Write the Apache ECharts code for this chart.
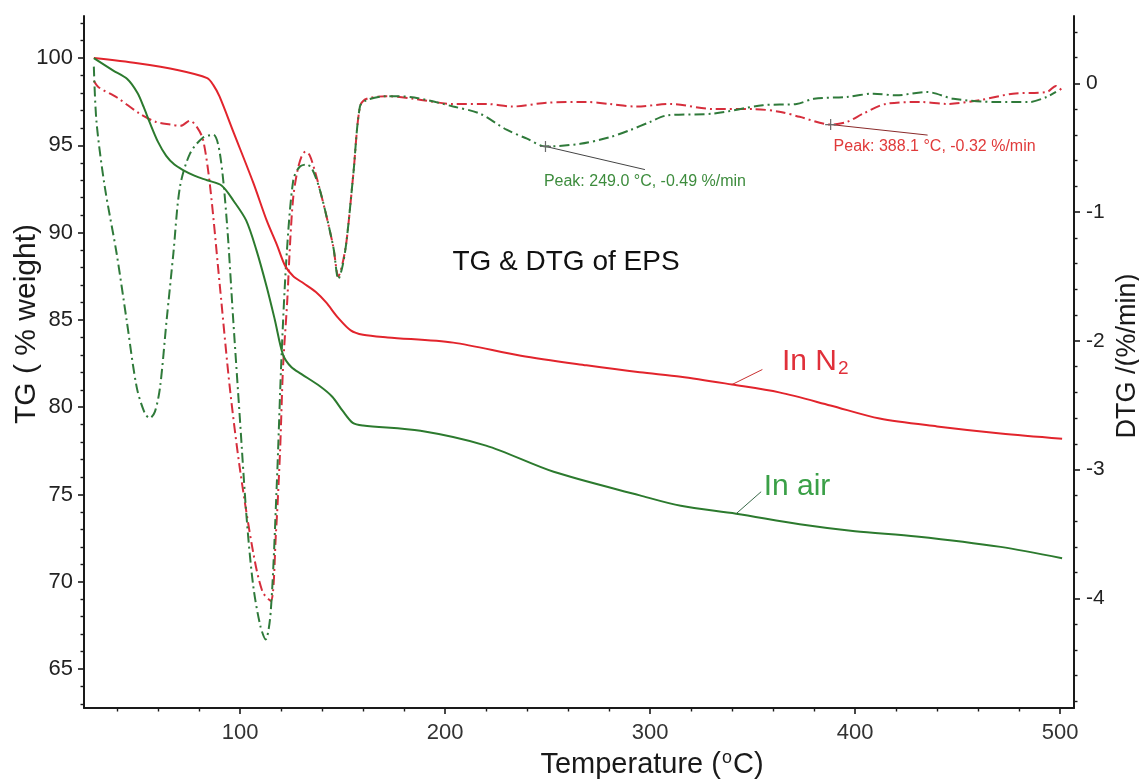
<!DOCTYPE html>
<html><head><meta charset="utf-8">
<script src="https://cdn.jsdelivr.net/npm/echarts@6/dist/echarts.min.js"></script>
<style>html,body{margin:0;padding:0;background:#fff}#c{width:1139px;height:780px}</style>
</head><body><div id="c"></div>
<script>
// ---------- data ----------
const tgN2Temp = [28.7, 50, 70, 84, 87, 90, 97, 106.5, 113, 118, 122, 126, 131, 137, 142, 148, 154, 160, 172, 204, 237, 269, 295, 315, 340, 363, 388, 412, 440, 471, 501];
const tgN2     = [100, 99.7, 99.3, 98.85, 98.45, 97.8, 95.7, 92.85, 90.7, 89.3, 88.1, 87.5, 87.1, 86.6, 86.0, 85.1, 84.4, 84.15, 84.0, 83.7, 82.95, 82.4, 82.0, 81.75, 81.3, 80.85, 80.1, 79.35, 78.9, 78.5, 78.2];

const tgAirTemp = [28.7, 38, 45, 50, 53, 56, 60, 64, 68, 72, 78, 84, 91, 97, 103, 108, 113, 117, 121, 125, 130, 139, 145, 150, 155, 160, 188, 220, 253, 295, 315, 342, 373, 400, 430, 471, 501];
const tgAir     = [100, 99.3, 98.8, 98.0, 97.2, 96.3, 95.2, 94.4, 93.9, 93.6, 93.25, 93.0, 92.7, 91.8, 90.7, 89.0, 86.9, 85.0, 83.0, 82.3, 81.9, 81.2, 80.6, 79.8, 79.1, 78.95, 78.65, 77.8, 76.3, 74.95, 74.35, 73.9, 73.3, 72.9, 72.6, 72.0, 71.35];

const dtgN2Temp = [28.7, 31, 40, 51, 59, 66, 71, 75.6, 79, 82, 85.4, 90.2, 95, 100, 106.5, 111, 115, 117.5, 119.5, 121, 123, 124.5, 126, 128, 130, 132, 134, 136.5, 139, 142, 145.5, 148, 150, 152, 155.3, 158.5, 161.8, 171.5, 185, 204, 220, 233, 250, 269, 280, 293.5, 310, 331, 350, 363, 373, 388.1, 396, 404, 415, 432, 445, 461, 477, 493.5, 498, 501];
const dtgN2     = [0.02, -0.03, -0.11, -0.235, -0.30, -0.32, -0.33, -0.29, -0.34, -0.44, -0.80, -1.58, -2.36, -3.0, -3.65, -3.95, -4.02, -3.5, -2.87, -2.2, -1.7, -1.22, -0.88, -0.68, -0.57, -0.53, -0.56, -0.68, -0.83, -1.02, -1.27, -1.50, -1.40, -1.22, -0.70, -0.18, -0.12, -0.10, -0.12, -0.16, -0.16, -0.18, -0.15, -0.145, -0.16, -0.18, -0.16, -0.20, -0.20, -0.22, -0.26, -0.32, -0.30, -0.235, -0.16, -0.145, -0.16, -0.13, -0.08, -0.067, -0.02, -0.06];

const dtgAirTemp = [28.7, 30, 34, 39.8, 44.7, 49.6, 53.5, 56, 58.5, 61, 64.2, 67.5, 70.7, 75.6, 82, 87, 90.2, 93.5, 96.7, 100, 103.3, 106.5, 110, 112.5, 115, 117.9, 120.3, 122.8, 126, 129, 132.5, 135, 139, 145.5, 148, 150, 152, 155.3, 158.5, 161.8, 171.5, 185, 204, 217, 230, 240, 249, 266, 280, 290, 300, 308, 331, 355, 371.5, 380, 396, 409, 420, 435, 448, 469, 485, 493.5, 498];
const dtgAir     = [0.13, -0.30, -0.80, -1.32, -1.84, -2.36, -2.56, -2.60, -2.55, -2.36, -1.84, -1.32, -0.805, -0.546, -0.42, -0.40, -0.546, -1.06, -1.84, -2.62, -3.39, -3.91, -4.22, -4.32, -4.1, -3.13, -2.10, -1.32, -0.75, -0.65, -0.63, -0.66, -0.83, -1.27, -1.52, -1.42, -1.22, -0.70, -0.18, -0.13, -0.10, -0.11, -0.18, -0.235, -0.36, -0.43, -0.49, -0.47, -0.42, -0.365, -0.30, -0.25, -0.235, -0.17, -0.16, -0.12, -0.106, -0.08, -0.093, -0.067, -0.12, -0.145, -0.145, -0.106, -0.067];

const peakAir = [249.0, -0.49];
const peakN2  = [388.1, -0.32];
const anchorN2  = [340, 81.3];
const anchorAir = [342, 73.9];

const xMajorTicks = [100, 200, 300, 400, 500];
const xMinorTicks = [40, 60, 80, 120, 140, 160, 180, 220, 240, 260, 280, 320, 340, 360, 380, 420, 440, 460, 480];
const tgMajorTicks = [65, 70, 75, 80, 85, 90, 95, 100];
const tgMinorTicks = [63, 64, 66, 67, 68, 69, 71, 72, 73, 74, 76, 77, 78, 79, 81, 82, 83, 84, 86, 87, 88, 89, 91, 92, 93, 94, 96, 97, 98, 99, 101, 102];
const dtgMajorTicks = [0, -1, -2, -3, -4];
const dtgMinorTicks = [0.4, 0.2, -0.2, -0.4, -0.6, -0.8, -1.2, -1.4, -1.6, -1.8, -2.2, -2.4, -2.6, -2.8, -3.2, -3.4, -3.6, -3.8, -4.2, -4.4, -4.6, -4.8];

// ---------- layout ----------
const X_MIN = 23.9, X_MAX = 506.8;
const TG_MIN = 62.77, TG_MAX = 102.41;
const DTG_MIN = -4.852, DTG_MAX = 0.523;
const FONT = '"Liberation Sans", Arial, sans-serif';
const AX = '#1a1a1a';
const RED = '#e2242c', GREEN = '#2c7a2e';
const RED_D = '#d62e3c', GREEN_D = '#2f7a3a';

const pairs = (xs, ys) => xs.map((x, i) => [x, ys[i]]);

function majorAxis(extra, min, max, ticks, labelOpt) {
  return Object.assign({
    type: 'value', min, max, scale: true,
    axisLine: { show: true, onZero: false, lineStyle: { color: AX, width: 2 } },
    axisTick: { show: true, customValues: ticks, length: 6, lineStyle: { color: AX, width: 1.6 } },
    axisLabel: Object.assign({ show: true, customValues: ticks, fontFamily: FONT }, labelOpt),
    splitLine: { show: false }
  }, extra);
}
function minorAxis(extra, min, max, ticks) {
  return Object.assign({
    type: 'value', min, max, scale: true,
    axisLine: { show: false, onZero: false },
    axisTick: { show: true, customValues: ticks, length: 3.5, lineStyle: { color: AX, width: 1.4 } },
    axisLabel: { show: false },
    splitLine: { show: false }
  }, extra);
}

const chart = echarts.init(document.getElementById('c'), null, { renderer: 'canvas' });

const invisible = { color: 'rgba(0,0,0,0)', borderWidth: 0 };
const cross = 'path://M5,0L5,10M0,5L10,5';

function leader(anchor, dx, dy, yIdx, lineColor, labelOpt, withCross) {
  return {
    type: 'line', xAxisIndex: 0, yAxisIndex: yIdx, z: 6,
    showSymbol: true, silent: true, animation: false,
    lineStyle: { color: lineColor, width: 1 },
    data: [
      withCross
        ? { value: anchor, symbol: cross, symbolSize: 11, itemStyle: { color: 'none', borderColor: '#6a6a6a', borderWidth: 1.2 } }
        : { value: anchor, symbol: 'circle', symbolSize: 1, itemStyle: invisible },
      { value: [anchor[0] + dx, anchor[1] + dy], symbol: 'circle', symbolSize: 1, itemStyle: invisible, label: Object.assign({ show: true, fontFamily: FONT }, labelOpt) }
    ]
  };
}

const option = {
  animation: false,
  backgroundColor: '#ffffff',
  textStyle: { fontFamily: FONT },
  grid: { left: 84, right: 65, top: 16, bottom: 72, containLabel: false },
  xAxis: [
    majorAxis({ position: 'bottom' }, X_MIN, X_MAX, xMajorTicks, { fontSize: 22, color: '#333', margin: 14 }),
    minorAxis({ position: 'bottom' }, X_MIN, X_MAX, xMinorTicks)
  ],
  yAxis: [
    majorAxis({ position: 'left' }, TG_MIN, TG_MAX, tgMajorTicks, { fontSize: 22, color: '#222', margin: 11 }),
    minorAxis({ position: 'left' }, TG_MIN, TG_MAX, tgMinorTicks),
    majorAxis({ position: 'right' }, DTG_MIN, DTG_MAX, dtgMajorTicks, { fontSize: 21, color: '#222', margin: 12 }),
    minorAxis({ position: 'right' }, DTG_MIN, DTG_MAX, dtgMinorTicks)
  ],
  series: [
    { name: 'DTG N2', type: 'line', xAxisIndex: 0, yAxisIndex: 2, showSymbol: false, smooth: 0.3, z: 2,
      lineStyle: { color: RED_D, width: 2, type: [10, 4, 2, 4] }, data: pairs(dtgN2Temp, dtgN2) },
    { name: 'DTG air', type: 'line', xAxisIndex: 0, yAxisIndex: 2, showSymbol: false, smooth: 0.3, z: 2,
      lineStyle: { color: GREEN_D, width: 2, type: [10, 4, 2, 4] }, data: pairs(dtgAirTemp, dtgAir) },
    { name: 'TG N2', type: 'line', xAxisIndex: 0, yAxisIndex: 0, showSymbol: false, smooth: 0.3, z: 3,
      lineStyle: { color: RED, width: 2 }, data: pairs(tgN2Temp, tgN2) },
    { name: 'TG air', type: 'line', xAxisIndex: 0, yAxisIndex: 0, showSymbol: false, smooth: 0.3, z: 3,
      lineStyle: { color: GREEN, width: 2 }, data: pairs(tgAirTemp, tgAir) },
    leader(peakAir, 48.5, -0.18, 2, '#444', {
      position: 'bottom', distance: 4, fontSize: 16, color: '#3d8c3d',
      formatter: 'Peak: ' + peakAir[0].toFixed(1) + ' \u00B0C, ' + peakAir[1].toFixed(2) + ' %/min'
    }, true),
    leader(peakN2, 47.3, -0.082, 2, '#8a2a2a', {
      position: 'bottom', distance: 3, offset: [7, 0], fontSize: 16, color: '#e03a3a',
      formatter: 'Peak: ' + peakN2[0].toFixed(1) + ' \u00B0C, ' + peakN2[1].toFixed(2) + ' %/min'
    }, true),
    leader(anchorN2, 14.8, 0.86, 0, '#c83030', {
      position: 'right', distance: 19, offset: [0, -8],
      formatter: '{a|In N}{s|2}',
      rich: {
        a: { fontSize: 30, color: '#e0303a', fontFamily: FONT, lineHeight: 34, verticalAlign: 'middle' },
        s: { fontSize: 19, color: '#e0303a', fontFamily: FONT, verticalAlign: 'bottom', padding: [0, 0, 0, 1] }
      }
    }, false),
    leader(anchorAir, 12.2, 1.26, 0, '#3a6a4a', {
      position: 'right', distance: 2, offset: [0, -5], fontSize: 30, color: '#3aa047',
      formatter: 'In air'
    }, false)
  ],
  graphic: [
    { type: 'text', x: 566, y: 262, silent: true,
      style: { text: 'TG & DTG of EPS', fontSize: 28, fontFamily: FONT, fill: '#111',
               align: 'center', verticalAlign: 'middle', textAlign: 'center', textVerticalAlign: 'middle' } },
    { type: 'text', x: 27, y: 324, rotation: Math.PI / 2, silent: true,
      style: { text: 'TG ( % weight)', fontSize: 30, fontFamily: FONT, fill: '#1a1a1a',
               align: 'center', verticalAlign: 'middle', textAlign: 'center', textVerticalAlign: 'middle' } },
    { type: 'text', x: 1128, y: 356, rotation: Math.PI / 2, silent: true,
      style: { text: 'DTG /(%/min)', fontSize: 27, fontFamily: FONT, fill: '#1a1a1a',
               align: 'center', verticalAlign: 'middle', textAlign: 'center', textVerticalAlign: 'middle' } },
    { type: 'text', x: 652, y: 765, silent: true,
      style: { text: '{a|Temperature (}{s|o}{a|C)}', fontFamily: FONT, fill: '#1a1a1a',
               align: 'center', verticalAlign: 'middle', textAlign: 'center', textVerticalAlign: 'middle',
               rich: {
                 a: { fontSize: 29, fontFamily: FONT, fill: '#1a1a1a', color: '#1a1a1a', lineHeight: 32, verticalAlign: 'middle' },
                 s: { fontSize: 18, fontFamily: FONT, fill: '#1a1a1a', color: '#1a1a1a', verticalAlign: 'top', padding: [0, 1, 0, 1] }
               } } }
  ]
};
chart.setOption(option);
</script>
</body></html>
